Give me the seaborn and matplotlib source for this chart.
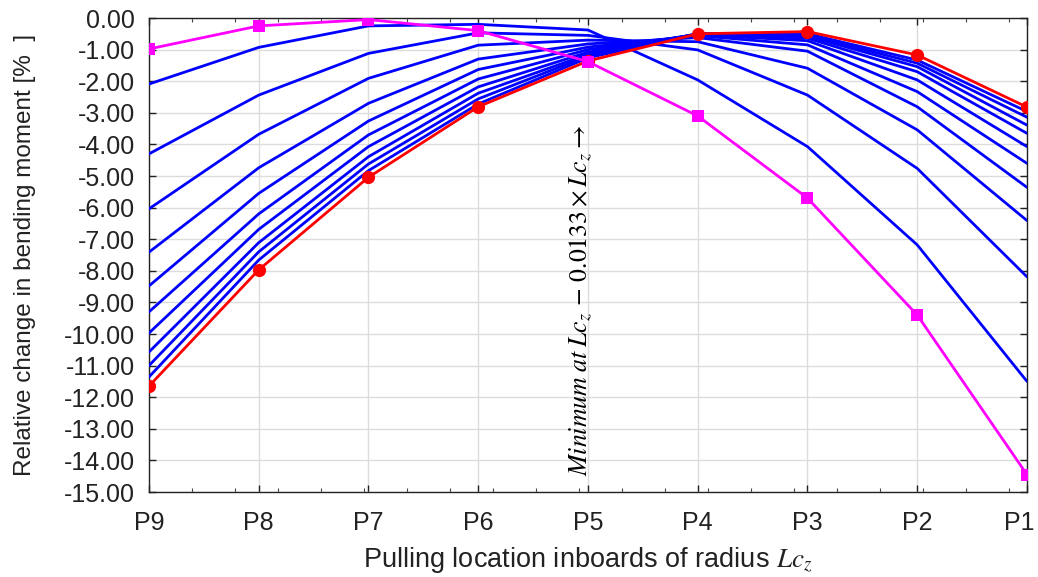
import numpy as np
import pandas as pd
import matplotlib
matplotlib.use("Agg")
import matplotlib.pyplot as plt
import matplotlib.transforms as mtransforms
from matplotlib.ticker import MultipleLocator
import seaborn as sns

# ---- data ----
categories = ["P9", "P8", "P7", "P6", "P5", "P4", "P3", "P2", "P1"]

magenta_vals = [-0.98, -0.25, -0.05, -0.40, -1.38, -3.10, -5.70, -9.40, -14.45]
red_vals = [-11.65, -7.97, -5.04, -2.81, -1.36, -0.50, -0.43, -1.17, -2.82]

blue_1 = [-2.09, -0.93, -0.25, -0.20, -0.38, -1.96, -4.07, -7.18, -11.50]
blue_2 = [-4.30, -2.44, -1.12, -0.47, -0.55, -1.01, -2.44, -4.76, -8.19]
blue_3 = [-6.04, -3.68, -1.91, -0.86, -0.70, -0.75, -1.59, -3.54, -6.41]
blue_4 = [-7.41, -4.74, -2.70, -1.30, -0.82, -0.62, -1.05, -2.81, -5.36]
blue_5 = [-8.48, -5.55, -3.26, -1.63, -0.92, -0.56, -0.85, -2.33, -4.60]
blue_6 = [-9.30, -6.20, -3.70, -1.93, -1.00, -0.53, -0.72, -1.96, -4.07]
blue_7 = [-9.97, -6.69, -4.07, -2.18, -1.08, -0.51, -0.64, -1.70, -3.65]
blue_8 = [-10.57, -7.11, -4.39, -2.38, -1.15, -0.50, -0.58, -1.54, -3.39]
blue_9 = [-11.00, -7.40, -4.62, -2.56, -1.20, -0.50, -0.54, -1.43, -3.14]
blue_10 = [-11.36, -7.66, -4.83, -2.72, -1.26, -0.50, -0.50, -1.33, -2.96]
blue_series = [blue_1, blue_2, blue_3, blue_4, blue_5, blue_6, blue_7, blue_8, blue_9, blue_10]

y_ticks = [0.0, -1.0, -2.0, -3.0, -4.0, -5.0, -6.0, -7.0, -8.0, -9.0,
           -10.0, -11.0, -12.0, -13.0, -14.0, -15.0]

annotation = r"$Minimum\;at\;Lc_z\,-\,0.0133\times Lc_z \rightarrow$"

# ---- style ----
sns.set_theme(style="whitegrid")
plt.rcParams["font.family"] = ["Liberation Sans", "DejaVu Sans"]
plt.rcParams["mathtext.fontset"] = "stix"
plt.rcParams["axes.unicode_minus"] = False

fig = plt.figure(figsize=(10.38, 5.77), dpi=100)
ax = fig.add_axes([0.1435, 0.1473, 0.8459, 0.8215])

x = np.arange(len(categories))

rows = []
for i, s in enumerate(blue_series):
    for xi, v in zip(x, s):
        rows.append({"x": xi, "y": v, "series": f"b{i}"})
df_blue = pd.DataFrame(rows)
sns.lineplot(data=df_blue, x="x", y="y", units="series", estimator=None,
             color="#0000ff", linewidth=2.0, ax=ax, zorder=3)

sns.lineplot(x=x, y=red_vals, color="#ff0000", linewidth=2.0, marker="o",
             markersize=9.5, markeredgewidth=0, ax=ax, zorder=4)
sns.lineplot(x=x, y=magenta_vals, color="#ff00ff", linewidth=2.0, marker="s",
             markersize=9, markeredgewidth=0, ax=ax, zorder=5)

ax.set_xlim(0, len(categories) - 1)
ax.set_ylim(-15, 0)
ax.set_xticks(x)
ax.set_xticklabels(categories)
ax.xaxis.set_minor_locator(MultipleLocator(0.392))
ax.set_yticks(y_ticks)
ax.set_yticklabels([f"{v:.2f}" if v != 0 else "0.00" for v in y_ticks])

ax.grid(True, which="major", color="#dcdcdc", linewidth=1.0)
ax.grid(False, which="minor")
ax.set_facecolor("white")
for sp in ax.spines.values():
    sp.set_color("#222222")
    sp.set_linewidth(1.0)

ax.tick_params(axis="both", which="major", direction="in", length=5, width=1,
               color="#222222", labelsize=18, labelcolor="#222222",
               top=True, right=True, bottom=True, left=True)
ax.tick_params(axis="x", which="major", pad=14)
ax.tick_params(axis="y", which="major", pad=10)
ax.tick_params(axis="x", which="minor", direction="in", length=3, width=0.8,
               color="#444444", top=True, bottom=True)

# keep the last x tick label inside the figure
last_lbl = ax.get_xticklabels()[-1]
last_lbl.set_transform(last_lbl.get_transform() +
                       mtransforms.ScaledTranslation(-8 / 100, 0, fig.dpi_scale_trans))

ax.set_xlabel(r"Pulling location inboards of radius $Lc_z$", fontsize=19.5,
              color="#222222", labelpad=7)
ax.set_ylabel("Relative change in bending moment [%  ]", fontsize=17.5,
              color="#222222", labelpad=20)

ax.text(3.93, -14.5, annotation, rotation=90, fontsize=18.5, color="black",
        ha="center", va="bottom", zorder=6)

fig.savefig("out.png", dpi=100)
